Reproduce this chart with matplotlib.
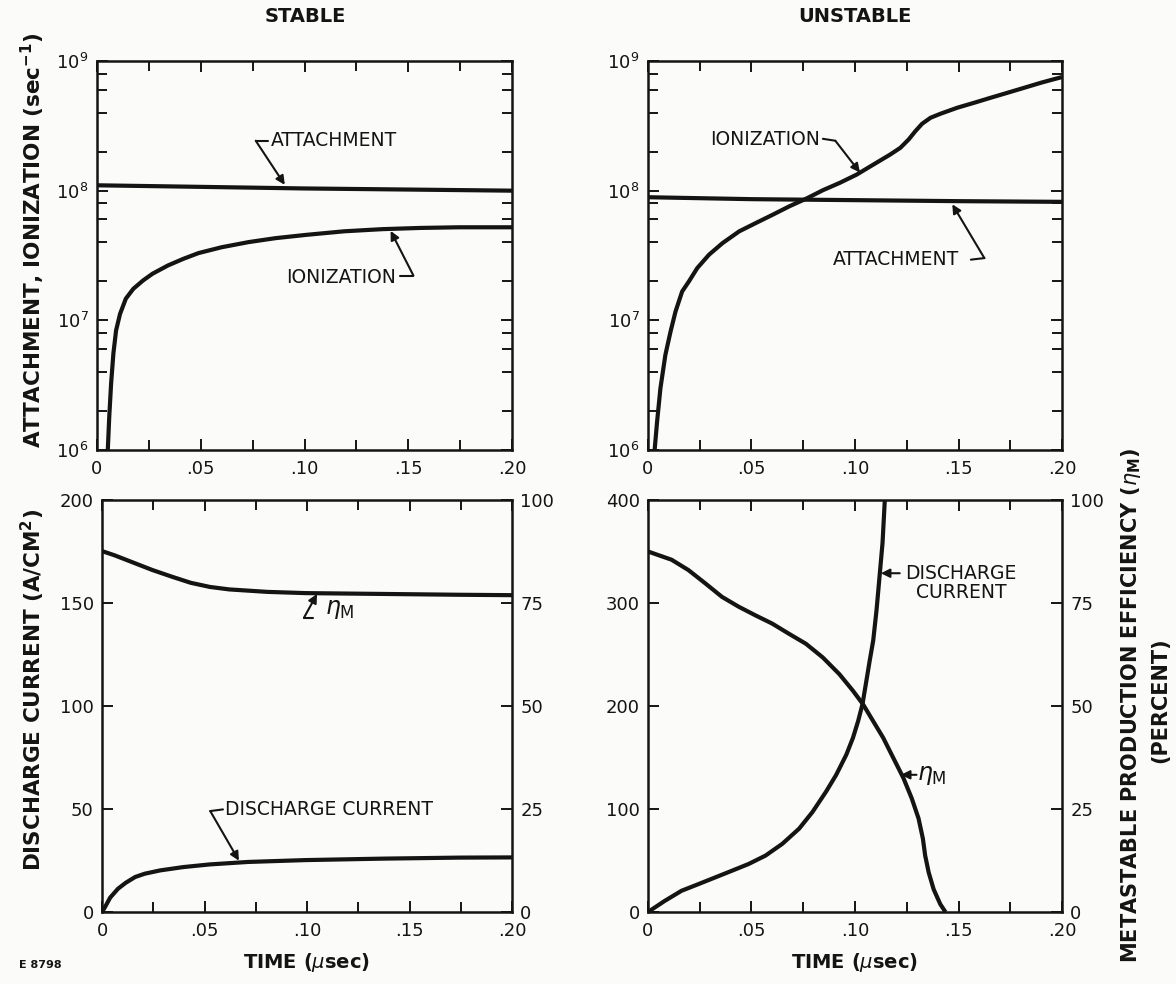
import matplotlib
matplotlib.use("Agg")
import matplotlib.pyplot as plt
from matplotlib.ticker import LogLocator, NullFormatter, MultipleLocator

INK = "#141414"
PAPER = "#fbfbf9"

# ---------------- data ----------------
# Stable discharge: attachment and ionization rates (sec^-1)
t_att_stable = [0.0, 0.05, 0.10, 0.15, 0.20]
attach_stable = [1.10e8, 1.07e8, 1.04e8, 1.02e8, 1.00e8]

t_ion_stable = [0.0052, 0.0059, 0.0068, 0.0079, 0.0092, 0.0111, 0.0139, 0.0175,
                0.0222, 0.0268, 0.0342, 0.0416, 0.0489, 0.060, 0.073, 0.0859,
                0.1007, 0.1191, 0.1376, 0.156, 0.1745, 0.20]
ion_stable = [1.00e6, 1.80e6, 3.26e6, 5.55e6, 8.37e6, 1.12e7, 1.47e7, 1.75e7,
              2.03e7, 2.29e7, 2.65e7, 2.98e7, 3.30e7, 3.66e7, 4.01e7, 4.30e7,
              4.56e7, 4.86e7, 5.05e7, 5.16e7, 5.22e7, 5.22e7]

# Unstable discharge: attachment and ionization rates (sec^-1)
t_att_unstable = [0.0, 0.05, 0.10, 0.15, 0.20]
attach_unstable = [8.9e7, 8.6e7, 8.45e7, 8.3e7, 8.2e7]

t_ion_unstable = [0.0032, 0.0044, 0.0060, 0.0084, 0.0109, 0.0133, 0.0165, 0.0198,
                  0.0238, 0.0295, 0.0360, 0.0441, 0.0522, 0.0603, 0.0684, 0.0765,
                  0.0846, 0.0927, 0.1008, 0.1089, 0.1170, 0.1219, 0.1259, 0.1292,
                  0.1324, 0.1365, 0.1413, 0.1494, 0.1575, 0.1656, 0.1737, 0.1818,
                  0.1900, 0.2000]
ion_unstable = [1.00e6, 1.66e6, 2.99e6, 5.42e6, 8.20e6, 1.17e7, 1.67e7, 2.00e7,
                2.53e7, 3.21e7, 3.94e7, 4.86e7, 5.64e7, 6.53e7, 7.59e7, 8.69e7,
                1.01e8, 1.15e8, 1.33e8, 1.59e8, 1.90e8, 2.14e8, 2.48e8, 2.88e8,
                3.28e8, 3.65e8, 3.92e8, 4.36e8, 4.76e8, 5.21e8, 5.69e8, 6.22e8,
                6.81e8, 7.52e8]

# Stable discharge: current density (A/cm^2) and metastable efficiency (%)
t_cur_stable = [0.0, 0.0013, 0.0040, 0.0078, 0.0116, 0.0162, 0.0209, 0.0284,
                0.0396, 0.0526, 0.0713, 0.0993, 0.1366, 0.1743, 0.20]
cur_stable = [0.0, 2.1, 7.0, 11.3, 14.2, 17.0, 18.6, 20.2,
              21.8, 23.1, 24.3, 25.2, 25.9, 26.4, 26.5]

t_eff_stable = [0.0, 0.0060, 0.0153, 0.0246, 0.0340, 0.0433, 0.0526, 0.0620,
                0.0806, 0.0993, 0.1366, 0.1740, 0.20]
eff_stable = [87.6, 86.6, 84.8, 83.0, 81.4, 79.9, 78.9, 78.3,
              77.7, 77.4, 77.2, 77.0, 76.9]

# Unstable discharge: current density (A/cm^2) and metastable efficiency (%)
t_cur_unstable = [0.0, 0.0081, 0.0162, 0.0244, 0.0325, 0.0406, 0.0487, 0.0568,
                  0.0649, 0.0730, 0.0795, 0.0860, 0.0909, 0.0958, 0.0990, 0.1015,
                  0.1036, 0.1055, 0.1071, 0.1088, 0.1104, 0.1120, 0.1133, 0.1144]
cur_unstable = [0.0, 10.8, 20.6, 27.1, 33.6, 40.1, 46.7, 54.8,
                66.2, 80.9, 97.2, 116.8, 133.1, 152.7, 169.0, 185.3,
                201.6, 224.5, 244.0, 263.6, 293.0, 328.9, 358.3, 400.0]

t_eff_unstable = [0.0, 0.0114, 0.0195, 0.0276, 0.0357, 0.0438, 0.0519, 0.0600,
                  0.0682, 0.0763, 0.0844, 0.0925, 0.0990, 0.1039, 0.1088, 0.1136,
                  0.1185, 0.1234, 0.1274, 0.1307, 0.1328, 0.1339, 0.1356, 0.1380,
                  0.1412, 0.1437]
eff_unstable = [87.5, 85.5, 83.0, 79.8, 76.5, 74.1, 72.0, 70.0,
                67.5, 65.1, 61.8, 57.7, 53.7, 50.4, 46.3, 42.3,
                37.4, 32.5, 27.6, 22.7, 17.8, 13.7, 9.6, 5.5,
                1.9, 0.0]

time_ticks = [0.0, 0.05, 0.10, 0.15, 0.20]
time_labels = ["0", ".05", ".10", ".15", ".20"]
rate_ticks = [1e6, 1e7, 1e8, 1e9]
rate_labels = [r"$10^{6}$", r"$10^{7}$", r"$10^{8}$", r"$10^{9}$"]
eff_ticks = [0, 25, 50, 75, 100]

# ---------------- figure ----------------
plt.rcParams["font.family"] = ["DejaVu Sans"]
plt.rcParams["mathtext.fontset"] = "dejavusans"

W, H = 1176, 984
fig = plt.figure(figsize=(W / 100, H / 100), dpi=100, facecolor=PAPER)


def box(x0, y0, x1, y1):
    """Axes rectangle from pixel corners (top-left origin)."""
    return [x0 / W, 1 - y1 / H, (x1 - x0) / W, (y1 - y0) / H]


ax_tl = fig.add_axes(box(97, 61, 512, 450))
ax_tr = fig.add_axes(box(648, 61, 1062, 450))
ax_bl = fig.add_axes(box(102, 500, 512, 912))
ax_br = fig.add_axes(box(648, 500, 1062, 912))

LW = 3.0
SPINE = 1.8
TICKFS = 13


def style(ax, right=True):
    ax.set_facecolor("none")
    for s in ax.spines.values():
        s.set_linewidth(SPINE)
        s.set_color(INK)
    ax.tick_params(which="both", direction="in", top=True, right=right,
                   color=INK, width=1.4, labelsize=TICKFS, labelcolor=INK)
    ax.tick_params(which="major", length=8)
    ax.tick_params(which="minor", length=7)
    ax.tick_params(axis="x", pad=7)
    ax.tick_params(axis="y", pad=6)
    ax.set_xlim(0, 0.20)
    ax.set_xticks(time_ticks, time_labels)
    ax.xaxis.set_minor_locator(MultipleLocator(0.025))


def style_log(ax):
    style(ax)
    ax.set_yscale("log")
    ax.set_ylim(1e6, 1e9)
    ax.set_yticks(rate_ticks, rate_labels)
    ax.yaxis.set_minor_locator(LogLocator(base=10, subs=[2, 4, 6, 8]))
    ax.yaxis.set_minor_formatter(NullFormatter())


ARROW = dict(arrowstyle="-|>", color=INK, lw=1.5, mutation_scale=13,
             shrinkA=0, shrinkB=0)


def leader(ax, pts, tip):
    """Drafting-style leader: shoulder polyline ending in an arrow at tip."""
    xs = [p[0] for p in pts]
    ys = [p[1] for p in pts]
    ax.plot(xs, ys, color=INK, lw=1.5, solid_capstyle="round", clip_on=False)
    ax.annotate("", xy=tip, xytext=pts[-1], arrowprops=ARROW)


ANN = dict(fontsize=13.5, color=INK, va="center")
ETA = dict(fontsize=17, color=INK, va="center", ha="left")

# --- top-left: stable rates ---
style_log(ax_tl)
ax_tl.plot(t_att_stable, attach_stable, color=INK, lw=LW, solid_capstyle="butt")
ax_tl.plot(t_ion_stable, ion_stable, color=INK, lw=LW, solid_capstyle="butt")
ax_tl.text(0.084, 10 ** 8.385, "ATTACHMENT", ha="left", **ANN)
leader(ax_tl, [(0.0822, 10 ** 8.385), (0.0765, 10 ** 8.385)], (0.0905, 10 ** 8.045))
ax_tl.text(0.144, 10 ** 7.333, "IONIZATION", ha="right", **ANN)
leader(ax_tl, [(0.1462, 10 ** 7.345), (0.1525, 10 ** 7.345)], (0.1415, 10 ** 7.69))

# --- top-right: unstable rates ---
style_log(ax_tr)
ax_tr.plot(t_att_unstable, attach_unstable, color=INK, lw=LW, solid_capstyle="butt")
ax_tr.plot(t_ion_unstable, ion_unstable, color=INK, lw=LW, solid_capstyle="butt")
ax_tr.text(0.0830, 10 ** 8.395, "IONIZATION", ha="right", **ANN)
leader(ax_tr, [(0.0845, 10 ** 8.40), (0.0905, 10 ** 8.385)], (0.1024, 10 ** 8.14))
ax_tr.text(0.0891, 10 ** 7.468, "ATTACHMENT", ha="left", **ANN)
leader(ax_tr, [(0.1560, 10 ** 7.468), (0.1625, 10 ** 7.48)], (0.1470, 10 ** 7.895))


def bottom(ax, top_val, top_ticks):
    style(ax, right=False)
    ax.set_ylim(0, top_val)
    ax.set_yticks(top_ticks)
    ax2 = ax.twinx()
    ax2.set_ylim(0, 100)
    ax2.set_yticks(eff_ticks)
    ax2.tick_params(which="both", direction="in", length=8, width=1.4,
                    color=INK, labelsize=TICKFS, labelcolor=INK, pad=6)
    for s in ax2.spines.values():
        s.set_visible(False)
    return ax2


# --- bottom-left: stable current and efficiency ---
bl2 = bottom(ax_bl, 200, [0, 50, 100, 150, 200])
ax_bl.plot(t_cur_stable, cur_stable, color=INK, lw=LW, solid_capstyle="butt")
bl2.plot(t_eff_stable, eff_stable, color=INK, lw=LW, solid_capstyle="butt")
ax_bl.text(0.0601, 49.8, "DISCHARGE CURRENT", ha="left", **ANN)
leader(ax_bl, [(0.0590, 49.8), (0.0528, 49.0)], (0.0668, 24.9))
bl2.text(0.1086, 73.5, r"$\eta_{\rm M}$", **ETA)
leader(bl2, [(0.1030, 71.4), (0.0985, 71.4)], (0.1049, 77.2))

# --- bottom-right: unstable current and efficiency ---
br2 = bottom(ax_br, 400, [0, 100, 200, 300, 400])
ax_br.plot(t_cur_unstable, cur_unstable, color=INK, lw=LW, solid_capstyle="butt")
br2.plot(t_eff_unstable, eff_unstable, color=INK, lw=LW, solid_capstyle="butt")
ax_br.text(0.1513, 328.9, "DISCHARGE", ha="center", **ANN)
ax_br.text(0.1513, 310.0, "CURRENT", ha="center", **ANN)
ax_br.annotate("", xy=(0.1125, 328.9), xytext=(0.1216, 328.9), arrowprops=ARROW)
br2.text(0.1300, 33.3, r"$\eta_{\rm M}$", **ETA)
br2.annotate("", xy=(0.1222, 33.3), xytext=(0.1297, 33.3), arrowprops=ARROW)

# ---------------- labels ----------------
LAB = dict(fontsize=14, fontweight="bold", color=INK, ha="center", va="center")
YLAB = dict(LAB, fontsize=15.5)
fig.text(305 / W, 1 - 17 / H, "STABLE", **LAB)
fig.text(855 / W, 1 - 17 / H, "UNSTABLE", **LAB)
fig.text(33 / W, 1 - 240 / H, r"ATTACHMENT, IONIZATION (sec$^{\mathbf{-1}}$)",
         rotation=90, **YLAB)
fig.text(33 / W, 1 - 690 / H, r"DISCHARGE CURRENT (A/CM$^{\mathbf{2}}$)",
         rotation=90, **YLAB)
fig.text(307 / W, 1 - 962 / H, r"TIME ($\mu$sec)", **LAB)
fig.text(855 / W, 1 - 962 / H, r"TIME ($\mu$sec)", **LAB)
fig.text(1131 / W, 1 - 705 / H,
         r"METASTABLE PRODUCTION EFFICIENCY ($\eta_{\mathbf{M}}$)",
         rotation=90, **dict(LAB, fontsize=15))
fig.text(1160 / W, 1 - 700 / H, "(PERCENT)", rotation=90, **dict(LAB, fontsize=15))
fig.text(40 / W, 1 - 965 / H, "E 8798", fontsize=8, fontweight="bold",
         color=INK, ha="center", va="center")

fig.savefig("out.png", dpi=100, facecolor=PAPER)
